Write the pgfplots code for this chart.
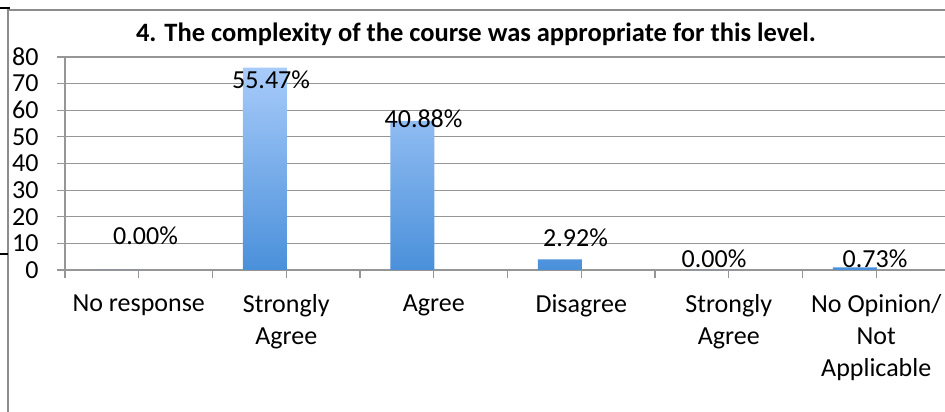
\documentclass[border=0pt]{standalone}
\usepackage{pgfplots}
\pgfplotsset{compat=1.18}
\usepackage{fontspec}
\setmainfont{Carlito}
\definecolor{gridgray}{RGB}{150,150,150}
\definecolor{framegray}{RGB}{140,140,140}
\definecolor{bartop}{RGB}{168,203,250}
\definecolor{barbot}{RGB}{74,144,218}
\begin{document}
\begin{tikzpicture}
\useasboundingbox (0,0) rectangle (945pt,412pt);
\draw[framegray, line width=1.2pt] (8pt,0) -- (8pt,402pt) -- (945pt,402pt);
\draw[black, line width=2.5pt] (0,404pt) -- (10pt,404pt);
\draw[black, line width=1.5pt] (0,158pt) -- (8pt,158pt);
\node[anchor=base, font=\fontsize{26.5}{31}\selectfont\bfseries] at (476pt,370pt)
  {4. The complexity of the course was appropriate for this level.};
\begin{axis}[
  at={(65pt,142pt)}, anchor=south west,
  scale only axis, width=885pt, height=213pt,
  xmin=-0.5, xmax=5.5, ymin=0, ymax=80,
  /pgf/number format/assume math mode=true,
  axis x line*=bottom, axis y line*=left,
  axis line style={draw=gridgray, line width=1.2pt, -},
  ytick={0,10,...,80},
  ymajorgrids, grid style={draw=gridgray, line width=1.2pt},
  xtick={0,...,5},
  minor xtick={-0.5,0.5,...,5.5},
  xticklabels={No response, {Strongly\\Agree}, Agree, Disagree, {Strongly\\Agree}, {No Opinion/\\Not\\Applicable}},
  tick align=outside,
  major tick length=8pt, minor tick length=8pt,
  xtick style={draw=gridgray, line width=1.2pt},
  ytick style={draw=gridgray, line width=1.2pt},
  ticklabel style={font=\fontsize{26}{32}\selectfont},
  yticklabel style={xshift=-15pt},
  xticklabel style={align=center, yshift=-13pt},
  clip=false,
]
\addplot[ybar, bar width=44pt, bar shift=-21.5pt, draw=none,
  top color=bartop, bottom color=barbot]
  coordinates {(0,0) (1,76) (2,56) (3,4) (4,0) (5,1)};
\addplot[draw=none, mark=none,
  nodes near coords={\pgfmathprintnumber[fixed, fixed zerofill, precision=2]{\pgfplotspointmeta}\%},
  point meta=explicit,
  every node near coord/.style={anchor=center, font=\fontsize{26}{32}\selectfont, text=black}]
  table[meta=p] {
x y p
0.046 13.0 0.00
0.897 71.6 55.47
1.931 57.0 40.88
2.961 12.2 2.92
3.900 4.3 0.00
4.992 4.3 0.73
};
\end{axis}
\end{tikzpicture}
\end{document}
